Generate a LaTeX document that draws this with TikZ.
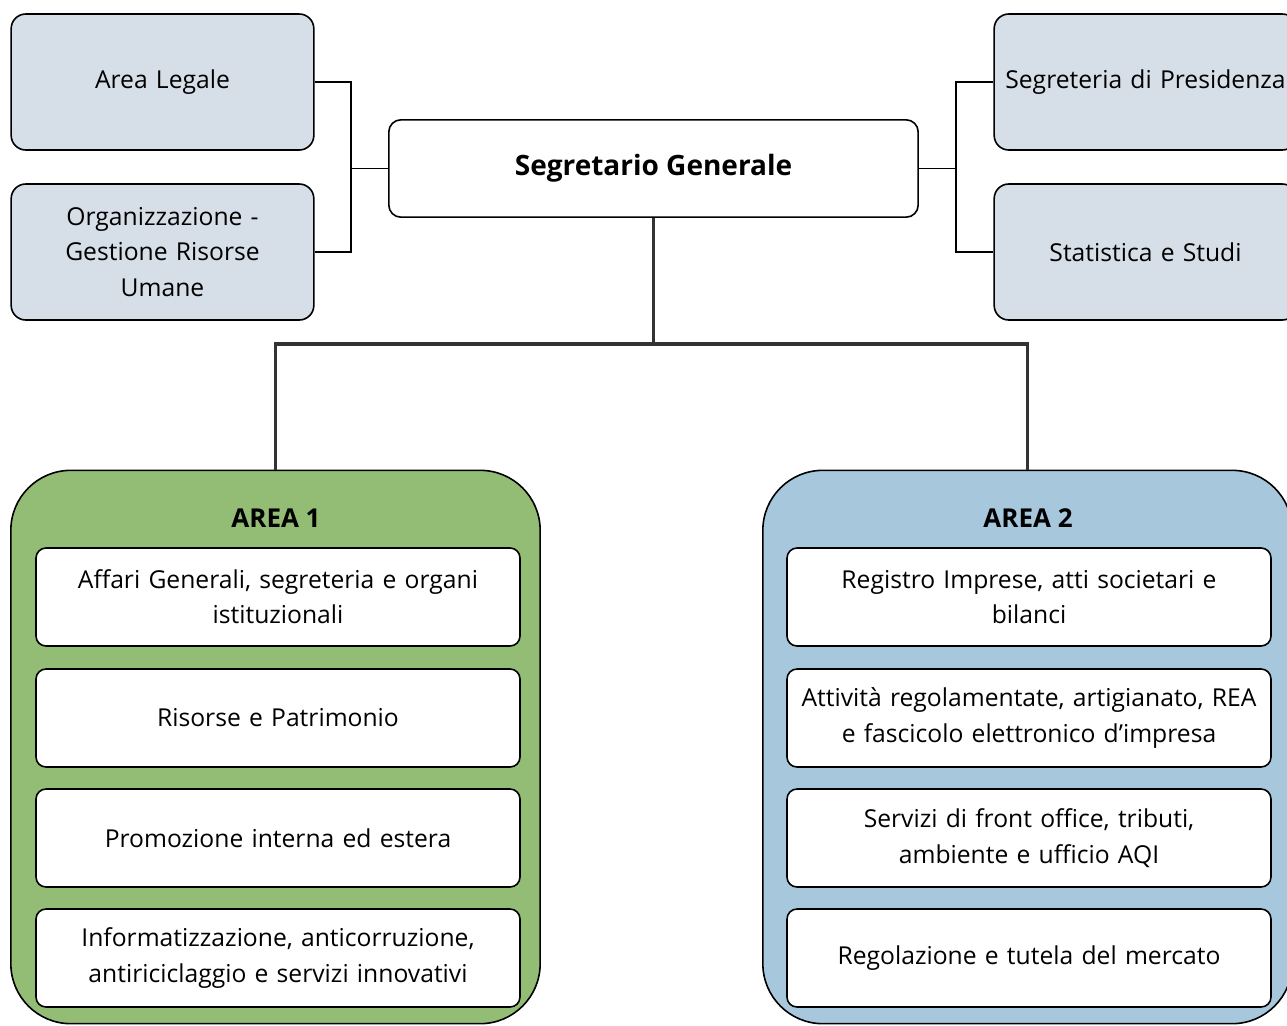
\documentclass[tikz,border=0pt]{standalone}
\usepackage{fontspec}
\setmainfont{Open Sans}
\usepackage{tikz}
\usetikzlibrary{positioning}

\definecolor{topfill}{HTML}{D6DFE8}
\definecolor{areaone}{HTML}{93BD74}
\definecolor{areatwo}{HTML}{A7C8DC}
\definecolor{trunk}{HTML}{333333}

\tikzset{
  txt/.style={align=center,font=\fontsize{18.5}{26.5}\selectfont},
  staffbox/.style={txt,draw,line width=1.2pt,rounded corners=11pt,fill=topfill,
    minimum width=227pt,minimum height=102pt,text width=212pt},
  headbox/.style={txt,draw,line width=1.2pt,rounded corners=9pt,fill=white,
    minimum width=397pt,minimum height=73pt,font=\fontsize{21}{26}\selectfont\bfseries},
  areabox/.style={draw,line width=1.2pt,rounded corners=45pt,
    minimum width=397pt,minimum height=415pt},
  areatitle/.style={txt,font=\fontsize{19.5}{26}\selectfont\bfseries},
  officebox/.style={txt,draw,line width=1.2pt,rounded corners=7.5pt,fill=white,
    minimum width=363pt,minimum height=73.5pt,text width=350pt},
  link/.style={line width=1.3pt},
  trunkline/.style={line width=2.8pt,draw=trunk}
}

\begin{document}
\begin{tikzpicture}[x=0.75pt,y=-0.75pt]
        \useasboundingbox (0,0) rectangle (1287,1025);
        \clip (0,0) rectangle (1287,1025);

        % staff offices
        \node[staffbox] (legal) at (162.5,82) {Area Legale};
        \node[staffbox] (org) at (162.5,252) {Organizzazione -\\Gestione Risorse\\Umane};
        \node[headbox] (sg) at (653.5,168.5) {Segretario Generale};
        \node[staffbox] (pres) at (1145.5,82) {Segreteria di Presidenza};
        \node[staffbox] (stat) at (1145.5,252) {Statistica e Studi};

        \coordinate (lj) at (351,168.5);
        \coordinate (rj) at (956,168.5);
        \draw[link] (legal.east) -| (lj) |- (org.east);
        \draw[link] (lj) -- (sg.west);
        \draw[link] (pres.west) -| (rj) |- (stat.west);
        \draw[link] (rj) -- (sg.east);

        % areas
        \node[areabox,fill=areaone] (area1) at (275.5,747) {};
        \node[areabox,fill=areatwo] (area2) at (1027.5,747) {};
        \node[areatitle] (t1) at (276,518) {AREA 1};
        \node[areatitle] (t2) at (1028,518) {AREA 2};

        \coordinate (dj) at (653.5,344);
        \draw[trunkline] (sg.south) -- (dj);
        \draw[trunkline] (area1.north) |- (dj) -| (area2.north);

        % area 1 offices
        \node[officebox] (a1) at (278,597) {Affari Generali, segreteria e organi\\istituzionali};
        \node[officebox] (a2) at (278,718) {Risorse e Patrimonio};
        \node[officebox] (a3) at (278,838) {Promozione interna ed estera};
        \node[officebox] (a4) at (278,958) {Informatizzazione, anticorruzione,\\antiriciclaggio e servizi innovativi};

        % area 2 offices
        \node[officebox] (b1) at (1029,597) {Registro Imprese, atti societari e\\bilanci};
        \node[officebox] (b2) at (1029,718) {Attività regolamentate, artigianato, REA\\e fascicolo elettronico d’impresa};
        \node[officebox] (b3) at (1029,838) {Servizi di front office, tributi,\\ambiente e ufficio AQI};
        \node[officebox] (b4) at (1029,958) {Regolazione e tutela del mercato};
      \end{tikzpicture}
\end{document}
